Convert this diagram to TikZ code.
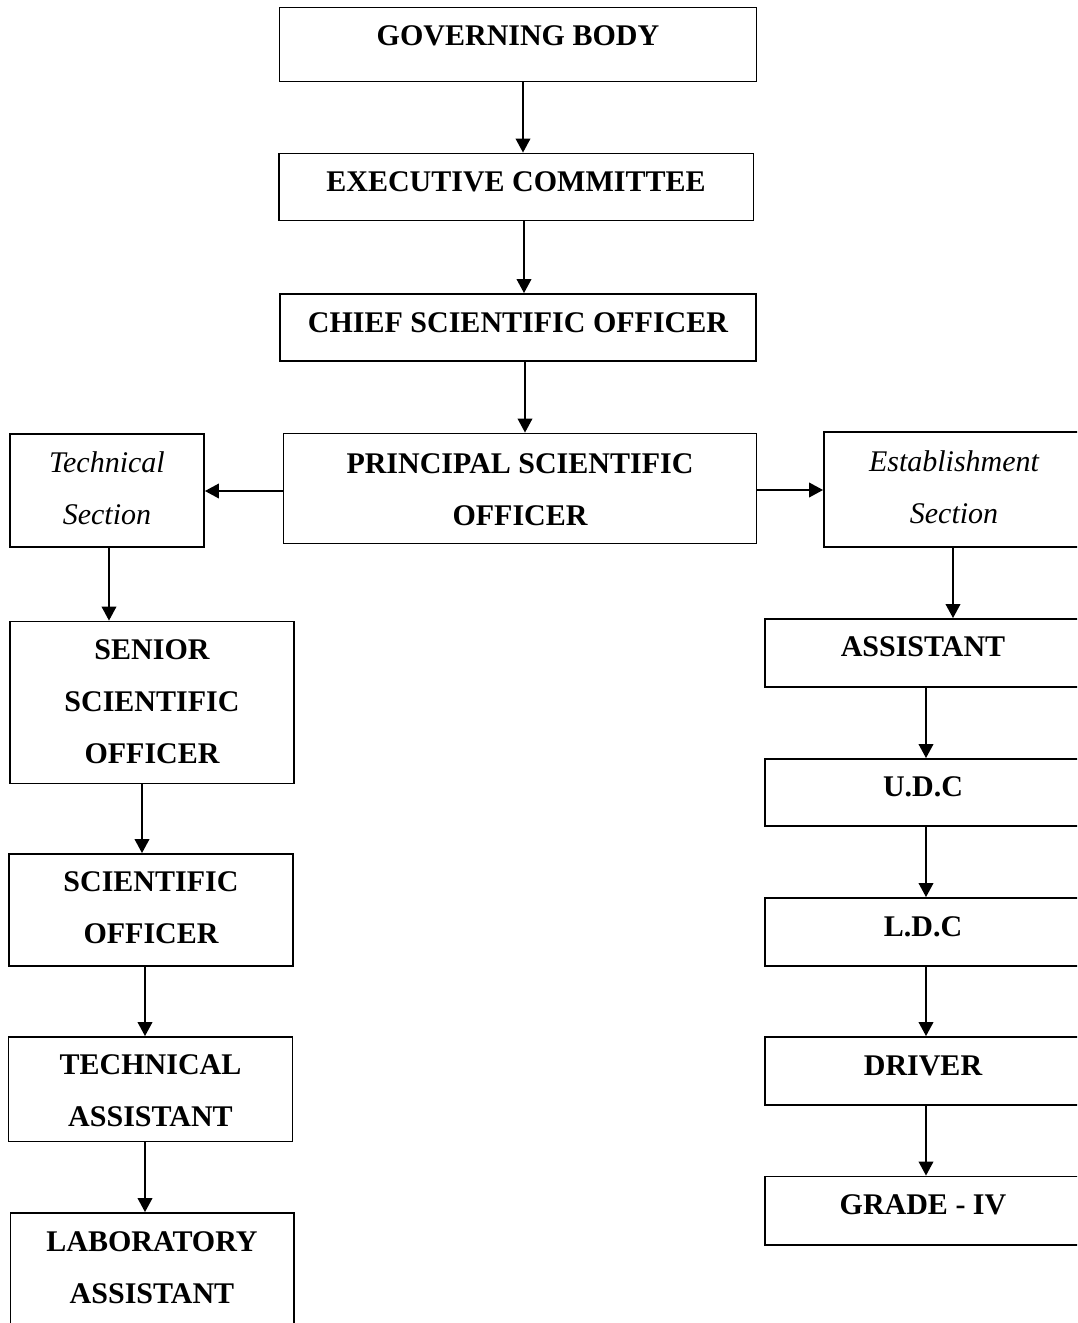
\documentclass[tikz,border=0pt]{standalone}
\usepackage{fontspec}
\setmainfont{Liberation Serif}
\usetikzlibrary{arrows.meta}

% rectangle node spanning (x1,y1)-(x2,y2) in pixel units
\newcommand\orgbox[5]{%
  \node[box, minimum width={(#4-#2)*0.75pt}, minimum height={(#5-#3)*0.75pt}]
    (#1) at ({(#2+#4)/2},{(#3+#5)/2}) {};}

% text nodes are placed by the baseline of their last line
\tikzset{
  box/.style={draw, line width=1.4pt, inner sep=0pt, fill=white},
  label txt/.style={anchor=base, align=center, inner sep=0pt,
    font=\fontsize{22.5}{39}\selectfont\bfseries},
  section txt/.style={anchor=base, align=center, inner sep=0pt,
    font=\fontsize{22.5}{39}\selectfont\itshape},
  arr/.style={line width=1.2pt, -{Triangle[length=10.5pt,width=11pt]}}
}

\begin{document}
\begin{tikzpicture}[x=0.75pt,y=-0.75pt]
\path[use as bounding box, fill=white] (0,0) rectangle (1077,1323);
\clip (0,0) rectangle (1077,1323);

% central chain
\orgbox{gb}{279.5}{7.5}{756.5}{81.5}
\node[label txt] (gbt) at (518,46) {GOVERNING BODY};
\orgbox{ec}{279}{153.5}{753.5}{220.5}
\node[label txt] (ect) at (516,191.7) {EXECUTIVE COMMITTEE};
\orgbox{cso}{280}{294}{756}{361}
\node[label txt] (csot) at (518,332.3) {CHIEF SCIENTIFIC OFFICER};
\orgbox{pso}{283.5}{433.5}{756.5}{543.5}
\node[label txt] (psot) at (520,525) {PRINCIPAL SCIENTIFIC\\OFFICER};

% sections
\orgbox{tech}{10}{434}{204}{547}
\node[section txt] (techt) at (107,524) {Technical\\Section};
\orgbox{est}{824}{432}{1084}{547}
\node[section txt] (estt) at (954,523) {Establishment\\Section};

% technical branch
\orgbox{senior}{10}{621.5}{294}{783.5}
\node[label txt] (seniort) at (152,763.3) {SENIOR\\SCIENTIFIC\\OFFICER};
\orgbox{so}{9}{854}{293}{966}
\node[label txt] (sot) at (151,943.3) {SCIENTIFIC\\OFFICER};
\orgbox{ta}{8.5}{1037}{292.5}{1141.5}
\node[label txt] (tat) at (150.5,1126.7) {TECHNICAL\\ASSISTANT};
\orgbox{la}{10.5}{1213}{294}{1345}
\node[label txt] (lat) at (152,1303.3) {LABORATORY\\ASSISTANT};

% establishment branch
\orgbox{asst}{765}{619}{1081}{687}
\node[label txt] (asstt) at (923,656.7) {ASSISTANT};
\orgbox{udc}{765}{759}{1081}{826}
\node[label txt] (udct) at (923,796.7) {U.D.C};
\orgbox{ldc}{765}{898}{1081}{966}
\node[label txt] (ldct) at (923,936) {L.D.C};
\orgbox{drv}{765}{1037}{1081}{1105}
\node[label txt] (drvt) at (923,1075.7) {DRIVER};
\orgbox{grade}{765}{1176.5}{1081}{1245}
\node[label txt] (gradet) at (923,1214.3) {GRADE - IV};

% connectors
\draw[arr] (gb.south -| 523,0) -- (ec.north -| 523,0);
\draw[arr] (ec.south -| 524,0) -- (cso.north -| 524,0);
\draw[arr] (cso.south -| 525,0) -- (pso.north -| 525,0);
\draw[arr] (pso.west |- 0,491) -- (tech.east |- 0,491);
\draw[arr] (pso.east |- 0,490) -- (est.west |- 0,490);

\draw[arr] (tech.south -| 109,0) -- (senior.north -| 109,0);
\draw[arr] (senior.south -| 142,0) -- (so.north -| 142,0);
\draw[arr] (so.south -| 145,0) -- (ta.north -| 145,0);
\draw[arr] (ta.south -| 145,0) -- (la.north -| 145,0);

\draw[arr] (est.south -| 953,0) -- (asst.north -| 953,0);
\draw[arr] (asst.south -| 926,0) -- (udc.north -| 926,0);
\draw[arr] (udc.south -| 926,0) -- (ldc.north -| 926,0);
\draw[arr] (ldc.south -| 926,0) -- (drv.north -| 926,0);
\draw[arr] (drv.south -| 926,0) -- (grade.north -| 926,0);
\end{tikzpicture}
\end{document}
